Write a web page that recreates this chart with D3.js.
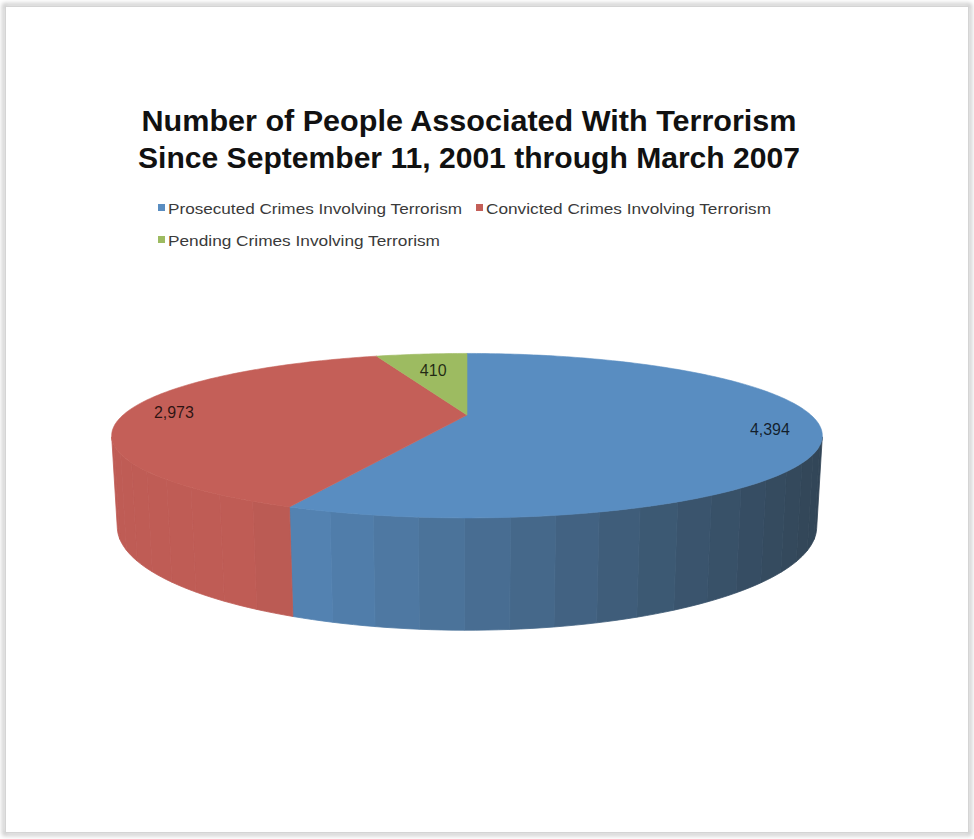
<!DOCTYPE html>
<html>
<head>
<meta charset="utf-8">
<script src="https://cdn.jsdelivr.net/npm/d3@7"></script>
<style>
  html, body { margin: 0; padding: 0; background: #ffffff; }
  svg { display: block; }
</style>
</head>
<body>
<svg id="chart" width="974" height="839"></svg>
<script>
// ---- data ----
const categories = [
  "Prosecuted Crimes Involving Terrorism",
  "Convicted Crimes Involving Terrorism",
  "Pending Crimes Involving Terrorism"
];
const values = [4394, 2973, 410];
const colors = ["#598dc1", "#c45f58", "#9dbb61"];
const titleLines = [
  "Number of People Associated With Terrorism",
  "Since September 11, 2001 through March 2007"
];

// ---- layout / 3D projection ----
const svg = d3.select("#chart");
const cx = 467, cy = 415;
const R = 0.258;              // pie radius relative to camera distance (D = 1)
const S = 1333;               // projection scale
const phi = Math.asin(0.224); // elevation
const depth = 0.0672;         // pie thickness
const cosP = Math.cos(phi), sinP = Math.sin(phi);

function proj(theta, r, Y) {
  const X = r * R * Math.sin(theta);
  const Z = r * R * Math.cos(theta);
  const w = 1 + Z * cosP - Y * sinP;
  const v = Z * sinP + Y * cosP;
  return [cx + S * X / w, cy - S * v / w];
}

// frame
const defs = svg.append("defs");
const f = defs.append("filter").attr("id", "shadow").attr("x", "-5%").attr("y", "-5%").attr("width", "110%").attr("height", "110%");
f.append("feGaussianBlur").attr("stdDeviation", 2);
svg.append("rect").attr("x", 4).attr("y", 5).attr("width", 966).attr("height", 829)
  .attr("fill", "none").attr("stroke", "#bdbdbd").attr("stroke-width", 3).attr("filter", "url(#shadow)");
svg.append("rect").attr("x", 5.5).attr("y", 6.5).attr("width", 963).attr("height", 826)
  .attr("fill", "#ffffff").attr("stroke", "#d4d4d4").attr("stroke-width", 1);

// title
const titleLen = [655, 662];
svg.append("g").selectAll("text").data(titleLines).join("text")
  .attr("x", 469).attr("y", (d, i) => 131 + i * 37)
  .attr("text-anchor", "middle")
  .attr("font-family", "Liberation Sans, Arial, sans-serif")
  .attr("font-weight", "bold").attr("font-size", 29)
  .attr("textLength", (d, i) => titleLen[i]).attr("lengthAdjust", "spacingAndGlyphs")
  .attr("fill", "#111111")
  .text(d => d);

// legend
const legendPos = [[158, 208], [476, 208], [158, 240]];
const legendLen = [294, 285, 272];
const lg = svg.append("g").selectAll("g").data(categories).join("g")
  .attr("transform", (d, i) => `translate(${legendPos[i][0]},${legendPos[i][1]})`);
lg.append("rect").attr("x", 0).attr("y", -4).attr("width", 7).attr("height", 7)
  .attr("fill", (d, i) => colors[i]);
lg.append("text").attr("x", 10).attr("y", 6)
  .attr("font-family", "Liberation Sans, Arial, sans-serif")
  .attr("font-size", 15).attr("fill", "#3a3a3a")
  .attr("textLength", (d, i) => legendLen[i]).attr("lengthAdjust", "spacingAndGlyphs")
  .text(d => d);

// pie
const pie = d3.pie().sort(null).startAngle(0).endAngle(2 * Math.PI);
const arcs = pie(values);
const line = d3.line();
const total = d3.sum(values);

// silhouette angles for the outer wall
const sil = Math.acos(-R / cosP);
const silA = sil, silB = 2 * Math.PI - sil;

// wall lighting: brighter on the left, darker to the right
const light = d3.scaleLinear().domain([295, 800]).range([0.93, 0.47]).clamp(false);
function shade(hex, k) {
  k = Math.min(0.97, k);
  const c = d3.rgb(hex);
  const g = (1 - k) * 18;
  return d3.rgb(c.r * k + g, c.g * k + g * 0.6, c.b * k).formatHex();
}

const gWalls = svg.append("g");
arcs.forEach((a, i) => {
  const a0 = Math.max(a.startAngle, silA), a1 = Math.min(a.endAngle, silB);
  if (a1 <= a0) return;
  const step = 6 * Math.PI / 180;
  const n = Math.max(1, Math.ceil((a1 - a0) / step));
  for (let j = 0; j < n; j++) {
    const t0 = a0 + (a1 - a0) * j / n, t1 = a0 + (a1 - a0) * (j + 1) / n;
    const pts = [];
    const m = 4;
    for (let q = 0; q <= m; q++) pts.push(proj(t0 + (t1 - t0) * q / m, 1, 0));
    for (let q = m; q >= 0; q--) pts.push(proj(t0 + (t1 - t0) * q / m, 1, -depth));
    const xm = proj((t0 + t1) / 2, 1, 0)[0];
    const col = shade(colors[i], light(xm));
    gWalls.append("path").attr("d", line(pts) + "Z")
      .attr("fill", col).attr("stroke", col).attr("stroke-width", 0.8);
  }
});

const gTops = svg.append("g");
arcs.forEach((a, i) => {
  const pts = [proj(0, 0, 0)];
  const n = Math.max(8, Math.ceil((a.endAngle - a.startAngle) / (Math.PI / 180)));
  for (let q = 0; q <= n; q++) pts.push(proj(a.startAngle + (a.endAngle - a.startAngle) * q / n, 1, 0));
  gTops.append("path").attr("d", line(pts) + "Z")
    .attr("fill", colors[i]).attr("stroke", colors[i]).attr("stroke-width", 0.6);
});

// data labels
const fmt = d3.format(",");
svg.append("g").selectAll("text").data(arcs).join("text")
  .each(function (a) {
    const mid = (a.startAngle + a.endAngle) / 2;
    const fr = a.value / total < 0.1 ? 0.7 : 0.86;
    const p = proj(mid, fr, 0);
    d3.select(this).attr("x", p[0]).attr("y", p[1] + 6);
  })
  .attr("text-anchor", "middle")
  .attr("font-family", "Liberation Sans, Arial, sans-serif")
  .attr("font-size", 16)
  .attr("fill", "rgba(0,0,0,0.78)")
  .text(d => fmt(d.value));
</script>
</body>
</html>
